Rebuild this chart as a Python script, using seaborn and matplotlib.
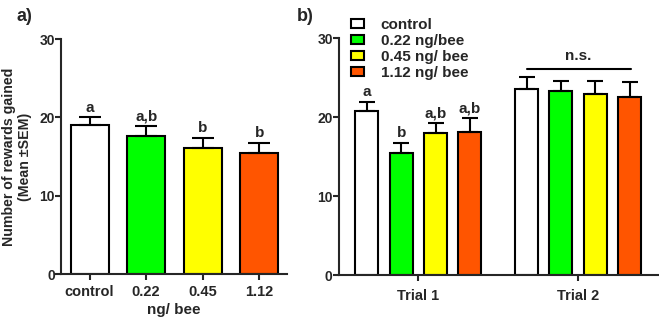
import pandas as pd
import matplotlib.pyplot as plt
import seaborn as sns

# --- data ---
doses = ['control', '0.22', '0.45', '1.12']
rewards_mean = [19.0, 17.6, 16.1, 15.5]
rewards_sem = [1.0, 1.3, 1.3, 1.2]
rewards_letters = ['a', 'a,b', 'b', 'b']

trials = ['Trial 1', 'Trial 2']
groups = ['control', '0.22 ng/bee', '0.45 ng/ bee', '1.12 ng/ bee']
trial1_mean = [20.8, 15.4, 18.0, 18.1]
trial1_sem = [1.1, 1.3, 1.2, 1.8]
trial1_letters = ['a', 'b', 'a,b', 'a,b']
trial2_mean = [23.6, 23.3, 22.9, 22.6]
trial2_sem = [1.5, 1.3, 1.7, 1.9]
ns_level = 26.1

colors = ['#ffffff', '#00ff00', '#ffff00', '#ff5500']

sns.set_style('ticks')
plt.rcParams['font.family'] = ['Liberation Sans', 'DejaVu Sans']
plt.rcParams['font.weight'] = 'bold'
plt.rcParams['axes.labelweight'] = 'bold'
plt.rcParams['axes.linewidth'] = 1.5
plt.rcParams['xtick.major.width'] = 1.5
plt.rcParams['ytick.major.width'] = 1.5
plt.rcParams['xtick.major.size'] = 4
plt.rcParams['ytick.major.size'] = 4

fig = plt.figure(figsize=(6.59, 3.21), dpi=100)
ax1 = fig.add_axes([0.0926, 0.1464, 0.343, 0.732])
ax2 = fig.add_axes([0.5144, 0.143, 0.484, 0.738])

# --- panel a ---
df_a = pd.DataFrame({'dose': doses, 'mean': rewards_mean, 'sem': rewards_sem})
sns.barplot(data=df_a, x='dose', y='mean', hue='dose', palette=colors,
            order=doses, width=0.67, edgecolor='black', linewidth=1.5,
            saturation=1, legend=False, errorbar=None, ax=ax1)
xs = list(range(len(doses)))
ax1.errorbar(xs, rewards_mean, yerr=[[0] * 4, rewards_sem], fmt='none',
             ecolor='black', elinewidth=1.5, capsize=8, capthick=1.5, zorder=1)
for x, m, s, lab in zip(xs, rewards_mean, rewards_sem, rewards_letters):
    ax1.annotate(lab, (x, m + s), xytext=(0, 2), textcoords='offset points',
                 ha='center', va='bottom', fontsize=11, fontweight='bold')
ax1.set_ylim(0, 30)
ax1.set_xlim(-0.504, 3.49)
ax1.set_yticks([0, 10, 20, 30])
ax1.set_xlabel('ng/ bee', fontsize=11, fontweight='bold', labelpad=3)
ax1.set_ylabel('Number of rewards gained\n(Mean \u00b1SEM)', fontsize=10.2,
               fontweight='bold', labelpad=5)
ax1.tick_params(axis='x', labelsize=10.5, pad=4)
ax1.tick_params(axis='y', labelsize=10, pad=0.5)
sns.despine(ax=ax1)

# --- panel b ---
df_b = pd.DataFrame({
    'trial': [trials[0]] * 4 + [trials[1]] * 4,
    'group': groups * 2,
    'mean': trial1_mean + trial2_mean,
    'sem': trial1_sem + trial2_sem,
})
sns.barplot(data=df_b, x='trial', y='mean', hue='group', hue_order=groups,
            palette=colors, width=0.86, gap=0.33, edgecolor='black',
            linewidth=1.5, saturation=1, errorbar=None, ax=ax2)
bar_containers = list(ax2.containers)
for gi, cont in enumerate(bar_containers):
    for ti, bar in enumerate(cont):
        cx = bar.get_x() + bar.get_width() / 2
        m = trial1_mean[gi] if ti == 0 else trial2_mean[gi]
        s = trial1_sem[gi] if ti == 0 else trial2_sem[gi]
        ax2.errorbar([cx], [m], yerr=[[0], [s]], fmt='none', ecolor='black',
                     elinewidth=1.5, capsize=5.5, capthick=1.5, zorder=1)
        if ti == 0:
            ax2.annotate(trial1_letters[gi], (cx, m + s), xytext=(0, 2),
                         textcoords='offset points', ha='center', va='bottom',
                         fontsize=11, fontweight='bold')
ax2.plot([0.68, 1.33], [ns_level, ns_level], color='black', lw=1.5)
ax2.text(1.0, ns_level + 0.8, 'n.s.', ha='center', va='bottom',
         fontsize=11, fontweight='bold')
ax2.set_ylim(0, 30)
ax2.set_xlim(-0.497, 1.5)
ax2.set_yticks([0, 10, 20, 30])
ax2.set_xlabel('')
ax2.set_ylabel('')
ax2.tick_params(axis='x', labelsize=10.5, pad=6)
ax2.tick_params(axis='y', labelsize=10, pad=0.5)
ax2.legend(title=None, frameon=False, loc='upper left',
           bbox_to_anchor=(0.02, 1.112), fontsize=11, handlelength=0.8,
           handleheight=0.5, labelspacing=0.14, handletextpad=1.1,
           borderaxespad=0)
sns.despine(ax=ax2)

fig.text(0.025, 0.935, 'a)', fontsize=13, fontweight='bold')
fig.text(0.45, 0.935, 'b)', fontsize=13, fontweight='bold')

fig.savefig('out.png', dpi=100)
